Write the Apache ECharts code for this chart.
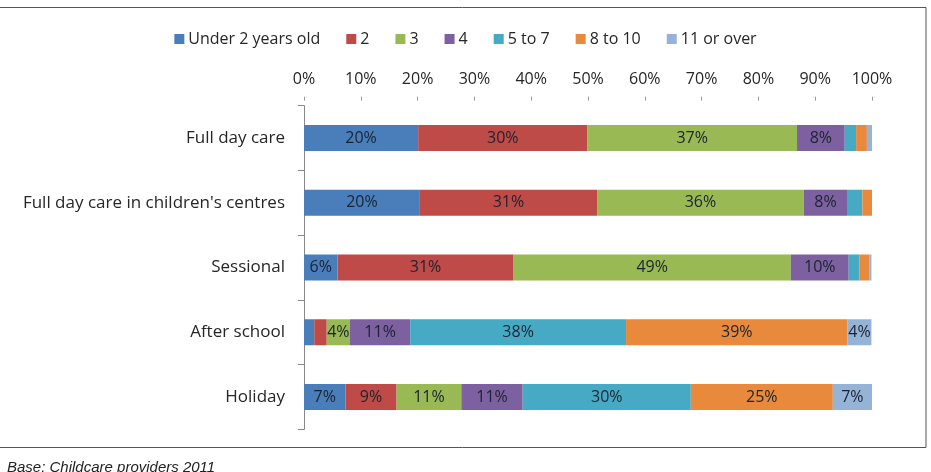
<!DOCTYPE html>
<html>
<head>
<meta charset="utf-8">
<script src="https://cdn.jsdelivr.net/npm/echarts@6/dist/echarts.min.js"></script>
<style>
  html, body { margin: 0; padding: 0; background: #fff; }
  #chart { width: 931px; height: 472px; }
</style>
</head>
<body>
<div id="chart"></div>
<script>
// categories (top to bottom)
const categories = ['Full day care', "Full day care in children's centres", 'Sessional', 'After school', 'Holiday'];

// share of children by age group, % per provider type
const under2 = [20.1, 20.4, 5.9, 1.8, 7.3];
const age2 = [29.8, 31.2, 31.0, 2.2, 9.0];
const age3 = [36.9, 36.4, 48.8, 4.1, 11.4];
const age4 = [8.4, 7.6, 10.2, 10.6, 10.8];
const age5to7 = [2.0, 2.7, 1.9, 38.0, 29.6];
const age8to10 = [1.9, 1.7, 1.7, 39.0, 25.0];
const age11plus = [0.9, 0, 0.4, 4.2, 6.9];

const seriesNames = ['Under 2 years old', '2', '3', '4', '5 to 7', '8 to 10', '11 or over'];
const seriesData = [under2, age2, age3, age4, age5to7, age8to10, age11plus];
const colors = ['#4A7EBB', '#BE4B48', '#98B954', '#7D60A0', '#46AAC5', '#E8893B', '#95B3D7'];

const FONT = '"Open Sans", Lato, sans-serif';

const chart = echarts.init(document.getElementById('chart'));

const option = {
    animation: false,
    color: colors,
    legend: {
        top: 26,
        left: 'center',
        itemWidth: 10,
        itemHeight: 10,
        itemGap: 26,
        icon: 'rect',
        textStyle: { fontFamily: FONT, fontSize: 16, color: '#262626', padding: [0, 0, 0, -1] },
        data: seriesNames
    },
    grid: {
        left: 304,
        right: 59,
        top: 105.6,
        bottom: 42.6
    },
    xAxis: {
        type: 'value',
        position: 'top',
        min: 0,
        max: 100,
        interval: 10,
        offset: 9,
        axisLine: { show: false },
        axisTick: { show: true, inside: true, length: 4, lineStyle: { color: '#999' } },
        splitLine: { show: false },
        axisLabel: {
            formatter: '{value}%',
            margin: 9,
            fontFamily: FONT,
            fontSize: 16,
            color: '#262626'
        }
    },
    yAxis: {
        type: 'category',
        inverse: true,
        data: categories,
        axisLine: { show: true, lineStyle: { color: '#888' } },
        axisTick: { show: true, length: 6, lineStyle: { color: '#888' } },
        axisLabel: {
            margin: 19,
            fontFamily: FONT,
            fontSize: 17,
            color: '#262626'
        }
    },
    series: seriesNames.map((name, i) => ({
        name: name,
        type: 'bar',
        stack: 'total',
        barWidth: 26,
        data: seriesData[i],
        label: {
            show: true,
            position: 'inside',
            fontFamily: FONT,
            fontSize: 16,
            color: '#1c2330',
            formatter: p => (p.value >= 3.5 ? Math.round(p.value) + '%' : '')
        }
    })),
    graphic: [
        {
            type: 'rect',
            shape: { x: -1, y: 7.5, width: 927, height: 440 },
            style: { fill: 'none', stroke: '#555', lineWidth: 1 },
            silent: true
        },
        {
            type: 'text',
            left: 7,
            top: 460,
            style: {
                text: 'Base: Childcare providers 2011',
                font: 'italic 15px "Liberation Sans", Arial, sans-serif',
                fill: '#222'
            }
        }
    ]
};

chart.setOption(option);
window.addEventListener('resize', function() {
    chart.resize();
});
</script>
</body>
</html>
